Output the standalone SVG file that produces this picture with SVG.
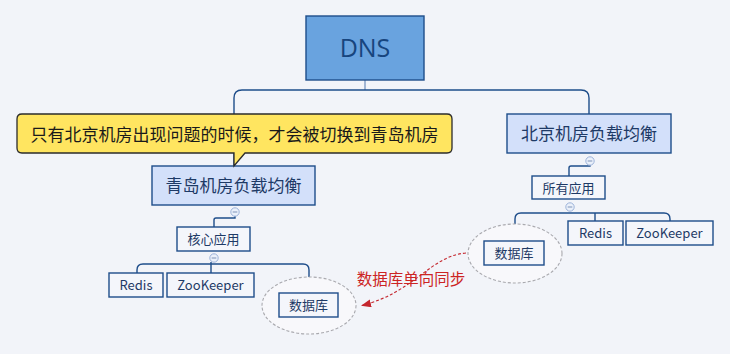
<svg xmlns="http://www.w3.org/2000/svg" width="730" height="354" viewBox="0 0 730 354">
  <defs>
    <style>
      .bg { fill: #F2F4F9; }
      .link { fill: none; stroke: #1E4D8A; stroke-width: 1.4; }
      .stub { fill: none; stroke: #7F9BC4; stroke-width: 1.4; }
      .topic { fill: #D3E0FA; stroke: #1E4D8A; stroke-width: 1.4; }
      .sub { fill: #F4F6FB; stroke: #1E4D8A; stroke-width: 1.4; }
      .txt { font-family: "Noto Sans CJK SC", "Noto Sans", sans-serif; fill: #1E3A66; text-anchor: middle; }
      .t17 { font-size: 17px; }
      .t13 { font-size: 13px; }
      .fold { fill: #EAF0FA; stroke: #9DB3DA; stroke-width: 1; }
      .fold-bar { stroke: #7F93B8; stroke-width: 1; }
      .cloud { fill: #F8F8FB; stroke: #A9A9AE; stroke-width: 1.1; stroke-dasharray: 3 2; }
    </style>
    <marker id="redHead" markerWidth="10" markerHeight="8" refX="9" refY="4" orient="auto" markerUnits="userSpaceOnUse">
      <path d="M0,0 L10,4 L0,8 Z" fill="#C4262E"/>
    </marker>
    <g id="foldMark">
      <circle cx="0" cy="0" r="4.2" class="fold"/>
      <line x1="-2.3" y1="0" x2="2.3" y2="0" class="fold-bar"/>
    </g>
  </defs>

  <rect class="bg" x="0" y="0" width="730" height="354"/>

  <!-- connectors -->
  <g id="connectors">
    <line class="stub" x1="365" y1="80" x2="365" y2="90"/>
    <path class="link" d="M234,115 V98 Q234,90 242,90 H581 Q589,90 589,98 V114"/>
    <path class="link" d="M234,153 V166"/>
    <!-- Qingdao subtree -->
    <path class="link" d="M235,216 V218 H216 Q214,218 214,220 V227"/>
    <path class="link" d="M137,273 V270 Q137,264 143,264 H303 Q309,264 309,270 V293"/>
    <path class="link" d="M211,262 V273"/>
    <!-- Beijing subtree -->
    <path class="link" d="M590,165 V166 H571 Q569,166 569,168 V176"/>
    <path class="link" d="M515,241 V219 Q515,213 521,213 H664 Q670,213 670,219 V221"/>
    <path class="link" d="M595,213 Q595,216 595,221"/>
    <!-- one-way database sync -->
    <path d="M466,253 C 430,256 415,292 362,305.5" fill="none" stroke="#C4262E" stroke-width="1.1" stroke-dasharray="3 2" marker-end="url(#redHead)"/>
    <text x="411" y="285" font-family="'Noto Sans CJK SC', sans-serif" font-size="15.5" fill="#CC2424" text-anchor="middle">数据库单向同步</text>
  </g>

  <!-- root -->
  <g id="dns">
    <rect x="306" y="16" width="118" height="64" fill="#69A3DF" stroke="#1E4D8A" stroke-width="1.4"/>
    <text x="365" y="57" font-family="'Open Sans', 'Noto Sans', sans-serif" font-size="25" fill="#17457E" text-anchor="middle">DNS</text>
  </g>

  <!-- Qingdao branch -->
  <g id="qingdao">
    <rect class="topic" x="152" y="166" width="163" height="39"/>
    <text class="txt t17" x="233.5" y="192">青岛机房负载均衡</text>
    <use href="#foldMark" x="235" y="212"/>
  </g>

  <g id="callout">
    <path d="M22,114 H447 Q452,114 452,119 V148 Q452,153 447,153 H245 L234,166 V153 H22 Q17,153 17,148 V119 Q17,114 22,114 Z" fill="#FFE560" stroke="#2B2B2B" stroke-width="1.3"/>
    <text x="234.5" y="141" font-family="'Noto Sans CJK SC', sans-serif" font-size="17" fill="#1A1A1A" text-anchor="middle">只有北京机房出现问题的时候，才会被切换到青岛机房</text>
  </g>

  <g id="qd-core">
    <rect class="sub" x="177" y="227" width="73" height="24"/>
    <text class="txt t13" x="213.5" y="244">核心应用</text>
    <use href="#foldMark" x="214" y="258"/>
  </g>

  <g id="qd-redis">
    <rect class="sub" x="109" y="273" width="54" height="24"/>
    <text class="txt t13" x="136" y="290">Redis</text>
  </g>

  <g id="qd-zookeeper">
    <rect class="sub" x="167" y="273" width="87" height="24"/>
    <text class="txt t13" x="210.5" y="290">ZooKeeper</text>
  </g>

  <g id="qd-db">
    <ellipse class="cloud" cx="309" cy="305.5" rx="47" ry="28.5"/>
    <rect class="sub" x="279" y="293" width="59" height="24"/>
    <text class="txt t13" x="308.5" y="310">数据库</text>
  </g>

  <!-- Beijing branch -->
  <g id="beijing">
    <rect class="topic" x="507" y="114" width="164" height="39"/>
    <text class="txt t17" x="589" y="140">北京机房负载均衡</text>
    <use href="#foldMark" x="590" y="161"/>
  </g>

  <g id="bj-all">
    <rect class="sub" x="532" y="176" width="73" height="23"/>
    <text class="txt t13" x="568.5" y="192.5">所有应用</text>
    <use href="#foldMark" x="570" y="207"/>
  </g>

  <g id="bj-db">
    <ellipse class="cloud" cx="515" cy="253.5" rx="47" ry="29.5"/>
    <rect class="sub" x="484" y="241" width="60" height="24"/>
    <text class="txt t13" x="514" y="258">数据库</text>
  </g>

  <g id="bj-redis">
    <rect class="sub" x="568" y="221" width="55" height="24"/>
    <text class="txt t13" x="595.5" y="238">Redis</text>
  </g>

  <g id="bj-zookeeper">
    <rect class="sub" x="626" y="221" width="87" height="24"/>
    <text class="txt t13" x="669.5" y="238">ZooKeeper</text>
  </g>
</svg>
